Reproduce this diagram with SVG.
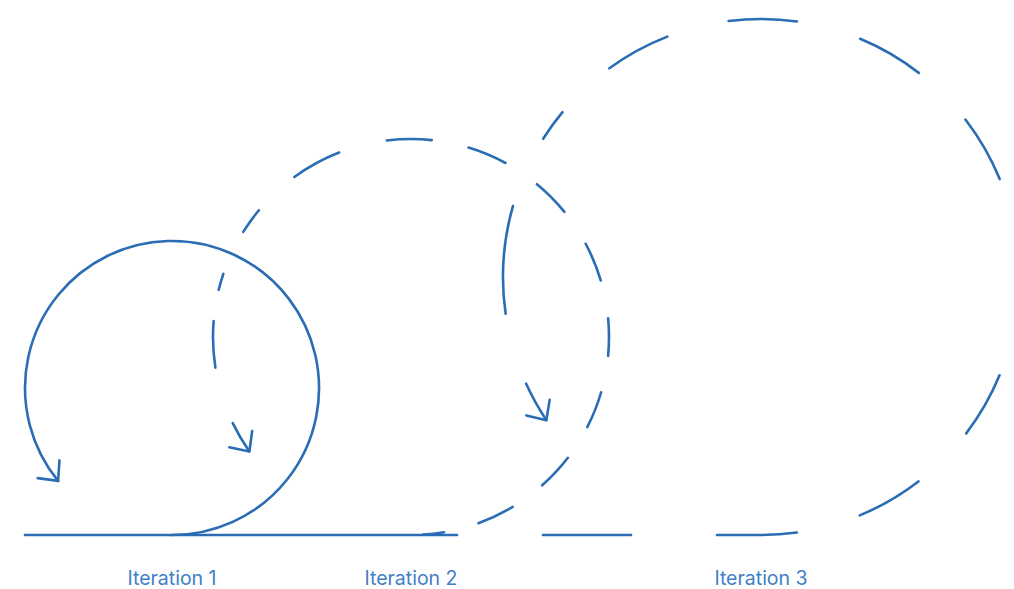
<svg xmlns="http://www.w3.org/2000/svg" width="1014" height="589" viewBox="0 0 1014 589">
  <style>
    .ln { fill: none; stroke: #2a6db5; stroke-width: 2.6; stroke-linecap: round; stroke-linejoin: round; }
    .lbl { font-family: Inter, "Noto Sans", "Liberation Sans", sans-serif; font-size: 19.5px; fill: #3f80c6; text-anchor: middle; }
  </style>
  <defs>
    <marker id="head" markerUnits="userSpaceOnUse" orient="auto" viewBox="-20 -20 40 40" markerWidth="40" markerHeight="40" refX="0" refY="0" overflow="visible">
      <path class="ln" d="M-15,-14 L0,0 L-15,14"/>
    </marker>
  </defs>
  <rect width="1014" height="589" fill="#ffffff"/>

  <g id="connectors">
    <path id="baseline" class="ln" d="M25,535 L457,535"/>
    <path id="baseline-dash" class="ln" d="M543,535 L631,535"/>
  </g>

  <g id="iteration-1">
    <path class="ln" d="M172,535 A147,147 0 1 0 58.1,480.9" marker-end="url(#head)"/>
    <text class="lbl" x="172" y="584.5">Iteration 1</text>
  </g>

  <g id="iteration-2">
    <path class="ln" d="M423.09,534.63 A198,198 0 0 0 444.02,532.23
      M478.40,523.18 A198,198 0 0 0 512.67,506.91
      M542.20,485.29 A198,198 0 0 0 567.87,457.81
      M587.26,427.20 A198,198 0 0 0 601.14,392.24
      M608.09,355.98 A198,198 0 0 0 608.12,318.37
      M600.75,280.43 A198,198 0 0 0 585.66,243.74
      M564.40,211.81 A198,198 0 0 0 536.94,184.22
      M505.48,162.99 A198,198 0 0 0 468.56,147.55
      M431.70,140.09 A198,198 0 0 0 386.87,140.47
      M339.08,152.53 A198,198 0 0 0 294.34,177.02
      M258.88,210.26 A198,198 0 0 0 243.24,231.83
      M223.34,273.85 A198,198 0 0 0 218.72,289.77
      M213.64,321.12 A198,198 0 0 0 215.38,367.63"/>
    <path class="ln" d="M232.74,423.18 A198,198 0 0 0 249.40,451.42" marker-end="url(#head)"/>
    <text class="lbl" x="411" y="584.5">Iteration 2</text>
  </g>

  <g id="iteration-3">
    <path class="ln" d="M717,535 L761,535 A258,258 0 0 0 796.91,532.49
      M859.73,515.36 A258,258 0 0 0 918.42,481.41
      M966.23,433.35 A258,258 0 0 0 999.53,375.32
      M999.70,179.10 A258,258 0 0 0 965.41,119.58
      M918.77,72.87 A258,258 0 0 0 860.15,38.81
      M796.91,21.51 A258,258 0 0 0 728.66,21.04
      M667.28,36.62 A258,258 0 0 0 609.35,68.27
      M562.49,112.20 A258,258 0 0 0 543.16,138.76
      M512.99,205.88 A258,258 0 0 0 505.64,313.80"/>
    <path class="ln" d="M526.04,383.58 A258,258 0 0 0 546.36,420.15" marker-end="url(#head)"/>
    <text class="lbl" x="761" y="584.5">Iteration 3</text>
  </g>
</svg>
